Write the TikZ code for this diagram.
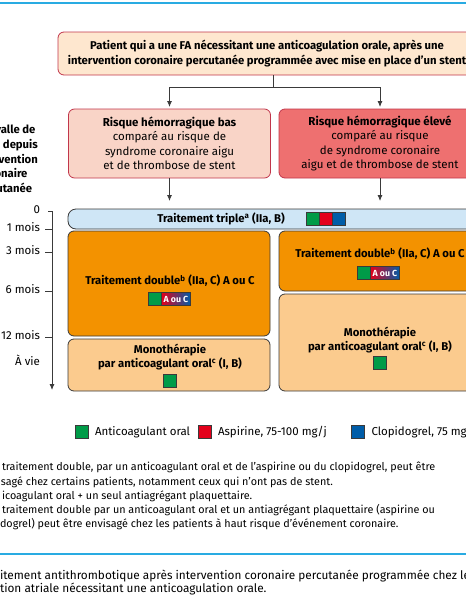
\documentclass[tikz,border=0pt]{standalone}
\usepackage{fontspec}
\setmainfont{Fira Sans}
\usetikzlibrary{arrows.meta,positioning}
\definecolor{lineblue}{HTML}{29ABE2}
\definecolor{topfill}{HTML}{FEE7CF}
\definecolor{riskline}{HTML}{C1364B}
\definecolor{basfill}{HTML}{F9D4C7}
\definecolor{hautfill}{HTML}{EE7070}
\definecolor{triplefill}{HTML}{CFE6F6}
\definecolor{doublefill}{HTML}{F39200}
\definecolor{monofill}{HTML}{FBCB8E}
\definecolor{boxgray}{HTML}{3A3A3A}
\definecolor{aogreen}{HTML}{009B48}
\definecolor{aspred}{HTML}{E3001B}
\definecolor{clopblue}{HTML}{005DA8}

\begin{document}
\begin{tikzpicture}[x=1pt, y=-1pt,
  every node/.style={inner sep=0pt, outer sep=0pt},
  arr/.style={-{Latex[length=6pt,width=5pt]}, line width=0.8pt, draw=boxgray},
  boite/.style={draw=boxgray, line width=0.8pt, rounded corners=6pt},
  rouge/.style={boite, draw=riskline},
  gras/.style={font=\fontsize{11.3}{14.3}\selectfont\bfseries, align=center},
  normal/.style={font=\fontsize{11.5}{14.5}\selectfont, align=center},
  sq/.style={draw=boxgray, line width=0.4pt, minimum size=13pt},
  aouc/.style={draw=boxgray, line width=0.4pt, minimum width=29pt, minimum height=13pt,
    left color=aspred, right color=clopblue, text=white, font=\fontsize{8.8}{8.8}\selectfont\bfseries},
  note/.style={anchor=mid west, font=\fontsize{10.8}{12}\selectfont},
  titre/.style={anchor=mid west, font=\fontsize{11.8}{12}\selectfont}
]
\useasboundingbox (0,0) rectangle (466,600);
\clip (0,0) rectangle (466,600);

% filets bleus
\draw[lineblue, line width=2pt] (0,3) -- (466,3);
\draw[lineblue, line width=2pt] (0,554) -- (466,554);

% patient
\node[rouge, fill=topfill, minimum width=418pt, minimum height=43pt, gras] (patient) at (267,53.5)
  {Patient qui a une FA nécessitant une anticoagulation orale, après une\\
   intervention coronaire percutanée programmée avec mise en place d’un stent};

% risques
\node[rouge, fill=basfill, minimum width=202pt, minimum height=69pt, normal] (bas) at (169.5,143.5)
  {\textbf{Risque hémorragique bas}\\comparé au risque de\\syndrome coronaire aigu\\et de thrombose de stent};
\node[rouge, fill=hautfill, minimum width=202pt, minimum height=69pt, normal] (haut) at (380,143.5)
  {\textbf{Risque hémorragique élevé}\\comparé au risque\\de syndrome coronaire\\aigu et de thrombose de stent};

\draw[arr, shorten >=2pt] ([xshift=6pt]patient.south) -- ++(0,12) -| (bas.north);
\draw[arr, shorten >=2pt] ([xshift=6pt]patient.south) -- ++(0,12) -| (haut.north);

% traitements
\node[boite, fill=triplefill, minimum width=414pt, minimum height=20pt, rounded corners=8pt] (triple) at (275,219) {};
\node[gras] (tripletxt) at (221,219) {Traitement triple\textsuperscript{a} (IIa, B)};
\node[sq, fill=aogreen] (t1) at (313,219) {};
\node[sq, fill=aspred, right=0pt of t1] (t2) {};
\node[sq, fill=clopblue, right=0pt of t2] (t3) {};

\draw[arr, shorten >=8pt] (bas.south) -- (bas.south |- triple.north);
\draw[arr, shorten >=8pt] (haut.south) -- (haut.south |- triple.north);

\node[boite, fill=doublefill, minimum width=202pt, minimum height=105pt] (doublebas) at (169,283.5) {};
\node[gras] (doublebastxt) at (170,281) {Traitement double\textsuperscript{b} (IIa, C) A ou C};
\node[sq, fill=aogreen] (g1) at (155,299) {};
\node[aouc, right=0pt of g1] (ac1) {A ou C};

\node[boite, fill=monofill, minimum width=202pt, minimum height=52pt] (monobas) at (169,365) {};
\node[gras] (monobastxt) at (170,357) {Monothérapie\\par anticoagulant oral\textsuperscript{c} (I, B)};
\node[sq, fill=aogreen] (g2) at (169.5,380.5) {};

\node[boite, fill=doublefill, minimum width=202pt, minimum height=60pt] (doublehaut) at (380,261) {};
\node[gras] (doublehauttxt) at (380,254) {Traitement double\textsuperscript{b} (IIa, C) A ou C};
\node[sq, fill=aogreen] (g3) at (364,273) {};
\node[aouc, right=0pt of g3] (ac2) {A ou C};

\node[boite, fill=monofill, minimum width=202pt, minimum height=97pt] (monohaut) at (380,342.5) {};
\node[gras] (monohauttxt) at (380,340) {Monothérapie\\par anticoagulant oral\textsuperscript{c} (I, B)};
\node[sq, fill=aogreen] (g4) at (380,362.5) {};

% axe du temps
\node[gras, font=\fontsize{11.3}{14.6}\selectfont\bfseries] (intervalle) at (3,160) {Intervalle de\\temps depuis\\l’intervention\\coronaire\\percutanée};
\draw[arr] (48,211) -- (52,211) -- (52,390);
\draw[line width=0.8pt, boxgray] (45,229) -- (52,229);
\draw[line width=0.8pt, boxgray] (45,252) -- (52,252);
\draw[line width=0.8pt, boxgray] (45,291) -- (52,291);
\draw[line width=0.8pt, boxgray] (45,337) -- (52,337);
\node[normal, anchor=mid east] (m0) at (40,211) {0};
\node[normal, anchor=mid east] (m1) at (40,229) {1 mois};
\node[normal, anchor=mid east] (m3) at (40,252) {3 mois};
\node[normal, anchor=mid east] (m6) at (40,291) {6 mois};
\node[normal, anchor=mid east] (m12) at (40,337) {12 mois};
\node[normal, anchor=mid east] (vie) at (40,363) {À vie};

% légende
\node[sq, fill=aogreen] (lg1) at (81.5,432) {};
\node[normal, right=7pt of lg1] (lt1) {Anticoagulant oral};
\node[sq, fill=aspred] (lg2) at (204.5,432) {};
\node[normal, right=7pt of lg2] (lt2) {Aspirine, 75-100 mg/j};
\node[sq, fill=clopblue] (lg3) at (358,432) {};
\node[normal, right=7pt of lg3] (lt3) {Clopidogrel, 75 mg/j};

% notes
\node[note] (n1) at (2,468) {traitement double, par un anticoagulant oral et de l’aspirine ou du clopidogrel, peut être};
\node[note] (n2) at (1,483) {sagé chez certains patients, notamment ceux qui n’ont pas de stent.};
\node[note] (n3) at (2,497) {icoagulant oral + un seul antiagrégant plaquettaire.};
\node[note] (n4) at (2,511) {traitement double par un anticoagulant oral et un antiagrégant plaquettaire (aspirine ou};
\node[note] (n5) at (0,525) {dogrel) peut être envisagé chez les patients à haut risque d’événement coronaire.};

% titre
\node[titre] (c1) at (0,577) {itement antithrombotique après intervention coronaire percutanée programmée chez les patients};
\node[titre] (c2) at (0,590) {tion atriale nécessitant une anticoagulation orale.};
\end{tikzpicture}
\end{document}
